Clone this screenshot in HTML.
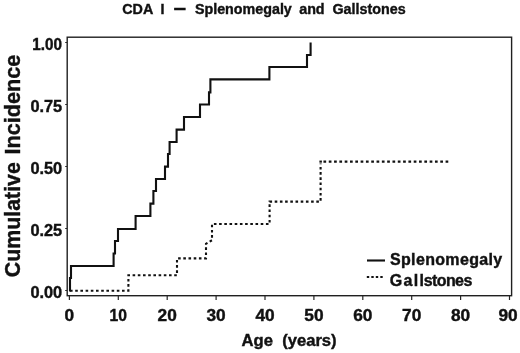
<!DOCTYPE html>
<html>
<head>
<meta charset="utf-8">
<title>CDA I - Splenomegaly and Gallstones</title>
<style>
html,body{margin:0;padding:0;background:#fff;}
body{width:520px;height:353px;overflow:hidden;}
svg{display:block;will-change:transform;}
text{font-family:"Liberation Sans",Arial,Helvetica,sans-serif;font-weight:bold;fill:#111;stroke:#111;stroke-width:0.4px;}
</style>
</head>
<body>
<svg width="520" height="353" viewBox="0 0 520 353">
<rect x="0" y="0" width="520" height="353" fill="#ffffff"/>

<!-- title -->
<g font-size="14.3">
<text x="122.3" y="13.6">CDA</text>
<text x="160.5" y="13.6">I</text>
<text x="173.1" y="12.9" font-size="17" textLength="13.8" lengthAdjust="spacingAndGlyphs">-</text>
<text x="194.9" y="13.6">Splenomegaly</text>
<text x="299.2" y="13.6">and</text>
<text x="332.5" y="13.6">Gallstones</text>
</g>

<!-- frame -->
<rect x="67.2" y="37.2" width="444.4" height="258.5" fill="none" stroke="#202020" stroke-width="1.4"/>

<!-- y ticks -->
<g stroke="#262626" stroke-width="1.2">
<line x1="65.2" x2="67" y1="42.5" y2="42.5"/>
<line x1="65.2" x2="67" y1="104.5" y2="104.5"/>
<line x1="65.2" x2="67" y1="166.5" y2="166.5"/>
<line x1="65.2" x2="67" y1="228.5" y2="228.5"/>
<line x1="65.2" x2="67" y1="290.5" y2="290.5"/>
</g>
<!-- x ticks -->
<g stroke="#262626" stroke-width="1.2">
<line x1="69.4" x2="69.4" y1="295.7" y2="300"/>
<line x1="118.3" x2="118.3" y1="295.7" y2="300"/>
<line x1="167.2" x2="167.2" y1="295.7" y2="300"/>
<line x1="216.1" x2="216.1" y1="295.7" y2="300"/>
<line x1="265.0" x2="265.0" y1="295.7" y2="300"/>
<line x1="313.9" x2="313.9" y1="295.7" y2="300"/>
<line x1="362.8" x2="362.8" y1="295.7" y2="300"/>
<line x1="411.7" x2="411.7" y1="295.7" y2="300"/>
<line x1="460.6" x2="460.6" y1="295.7" y2="300"/>
<line x1="509.5" x2="509.5" y1="295.7" y2="300"/>
</g>

<!-- y tick labels -->
<g font-size="16" text-anchor="end">
<text x="62" y="50.3" textLength="29.7" lengthAdjust="spacingAndGlyphs">1.00</text>
<text x="62.2" y="112.3" textLength="31.8" lengthAdjust="spacingAndGlyphs">0.75</text>
<text x="62.2" y="174.3" textLength="31.8" lengthAdjust="spacingAndGlyphs">0.50</text>
<text x="62.2" y="236.2" textLength="31.8" lengthAdjust="spacingAndGlyphs">0.25</text>
<text x="62.2" y="298.2" textLength="31.8" lengthAdjust="spacingAndGlyphs">0.00</text>
</g>
<!-- x tick labels -->
<g font-size="16" text-anchor="middle">
<text x="69.4" y="321" textLength="9.6" lengthAdjust="spacingAndGlyphs">0</text>
<text x="118.2" y="321" textLength="17.4" lengthAdjust="spacingAndGlyphs">10</text>
<text x="167.2" y="321" textLength="19.2" lengthAdjust="spacingAndGlyphs">20</text>
<text x="216.1" y="321" textLength="19.2" lengthAdjust="spacingAndGlyphs">30</text>
<text x="265.0" y="321" textLength="19.2" lengthAdjust="spacingAndGlyphs">40</text>
<text x="313.9" y="321" textLength="19.2" lengthAdjust="spacingAndGlyphs">50</text>
<text x="362.8" y="321" textLength="19.2" lengthAdjust="spacingAndGlyphs">60</text>
<text x="411.7" y="321" textLength="19.2" lengthAdjust="spacingAndGlyphs">70</text>
<text x="460.6" y="321" textLength="19.2" lengthAdjust="spacingAndGlyphs">80</text>
<text x="508" y="321" textLength="19.2" lengthAdjust="spacingAndGlyphs">90</text>
</g>

<!-- axis labels -->
<text font-size="16" x="241.6" y="346.3" textLength="95" lengthAdjust="spacingAndGlyphs" xml:space="preserve" style="white-space:pre">Age  (years)</text>
<text font-size="22.5" transform="translate(20.2,277.2) rotate(-90)"><tspan x="0" textLength="115" lengthAdjust="spacingAndGlyphs">Cumulative</tspan> <tspan x="122.6" textLength="100" lengthAdjust="spacingAndGlyphs">Incidence</tspan></text>

<!-- curves -->
<path d="M70,291.6 V278 H71 V266 H113.6 V253.5 H115 V241 H118 V229 H135.6 V216 H150.4 V203.6 H153.4 V191 H156 V179 H165 V166.6 H168 V154 H169.6 V142 H176.6 V129.6 H184 V117 H200 V104.5 H209 V92.4 H210.4 V79.4 H269.4 V67 H307 V55 H310.6 V42.4"
 fill="none" stroke="#111" stroke-width="2.1" stroke-linejoin="miter"/>
<path d="M70,290.7 H128.4 V275.3 H177 V258.4 H206 V243.8 L212,240.2 V224 H269.6 V201.6 H320.6 V163.5"
 fill="none" stroke="#111" stroke-width="2.1" stroke-dasharray="2.6 2.6"/>
<path d="M319.4,161.6 H321.9" fill="none" stroke="#111" stroke-width="2.1"/>
<path d="M323.45,161.6 H448.3" fill="none" stroke="#111" stroke-width="2.1" stroke-dasharray="2.7 2.61"/>

<!-- legend -->
<line x1="367" x2="385" y1="260.5" y2="260.5" stroke="#111" stroke-width="2.1"/>
<line x1="366.8" x2="382.8" y1="277" y2="277" stroke="#111" stroke-width="2.1" stroke-dasharray="2.4 2.1"/>
<g font-size="16">
<text x="390" y="265" textLength="112.2" lengthAdjust="spacing">Splenomegaly</text>
<text y="285.5"><tspan x="389.8" textLength="34.2" lengthAdjust="spacing">Gall</tspan><tspan x="423.7" textLength="48.6" lengthAdjust="spacing">stones</tspan></text>
</g>
</svg>
</body>
</html>
